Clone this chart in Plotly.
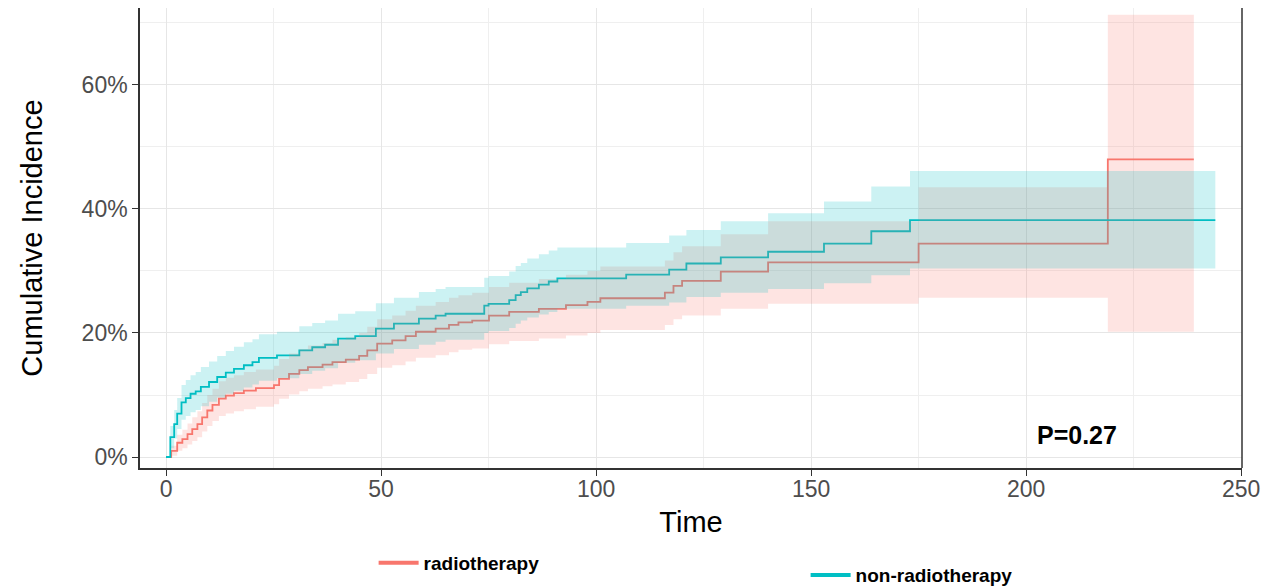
import plotly.graph_objects as go

# ---------------- data ----------------
# non-radiotherapy (teal): step times, cumulative incidence (%), 95% CI
teal_time = [0, 1.0, 1.9, 2.6, 3.6, 4.6, 5.7, 6.9, 8.1, 10.0, 11.9, 13.9, 15.8, 18.1, 20.1, 21.6,
             25.8, 31.0, 34.0, 37.0, 40.0, 44.0, 48.8, 53.0, 58.8, 62.7, 65.0, 74.0, 75.0, 79.8,
             81.3, 82.5, 84.0, 86.7, 89.0, 91.0, 107.0, 117.0, 121.0, 129.0, 140.0, 153.0, 164.0, 173.0]
teal_est = [0, 3.2, 5.3, 7.0, 8.8, 9.5, 10.2, 10.6, 11.3, 12.1, 12.9, 13.6, 14.2, 14.8, 15.3, 16.0,
            16.4, 17.2, 17.7, 18.1, 19.1, 19.5, 20.7, 21.5, 22.3, 22.8, 23.1, 24.4, 24.7, 25.3,
            26.1, 26.6, 27.2, 27.8, 28.3, 28.8, 29.4, 30.2, 31.2, 32.2, 33.1, 34.4, 36.4, 38.2]
teal_lower = [0, 1.4, 3.0, 4.5, 6.0, 6.6, 7.2, 7.6, 8.2, 8.9, 9.6, 10.2, 10.7, 11.2, 11.7, 12.3,
              12.7, 13.4, 13.9, 14.3, 15.2, 15.6, 16.7, 17.4, 18.1, 18.6, 18.9, 20.0, 20.3, 20.8,
              21.5, 22.0, 22.5, 23.0, 23.4, 23.9, 24.4, 24.9, 25.8, 26.5, 27.1, 28.0, 29.3, 30.4]
teal_upper = [0, 5.0, 7.6, 9.5, 11.6, 12.4, 13.2, 13.7, 14.5, 15.4, 16.3, 17.1, 17.8, 18.5, 19.0, 19.8,
              20.2, 21.1, 21.6, 22.0, 23.1, 23.5, 24.8, 25.7, 26.6, 27.1, 27.4, 28.9, 29.2, 29.9,
              30.8, 31.3, 32.0, 32.7, 33.3, 33.8, 34.5, 35.7, 36.6, 38.0, 39.3, 41.2, 43.6, 46.1]
teal_end = 244

# radiotherapy (red)
red_time = [0, 1.2, 2.6, 3.8, 5.0, 6.1, 7.3, 8.4, 9.6, 10.8, 12.3, 13.9, 15.8, 18.1, 20.9, 25.1,
            26.3, 28.6, 31.0, 33.0, 36.4, 38.7, 41.8, 44.9, 46.8, 49.1, 52.6, 55.7, 58.1, 62.7,
            65.8, 68.0, 71.2, 75.1, 79.8, 86.7, 93.0, 98.0, 101.0, 116.0, 118.0, 120.0, 129.0,
            140.0, 175.0, 219.0]
red_est = [0, 1.0, 2.3, 2.9, 3.7, 4.5, 5.3, 6.4, 7.5, 8.4, 9.4, 9.9, 10.3, 10.7, 11.1, 11.6,
           12.6, 13.4, 14.0, 14.5, 14.9, 15.3, 15.7, 16.3, 17.2, 18.3, 18.8, 19.5, 20.2, 20.7,
           21.3, 21.7, 22.0, 22.8, 23.4, 23.9, 24.5, 25.0, 25.6, 26.5, 27.6, 28.4, 29.9,
           31.4, 34.4, 48.0]
red_lower = [0, 0.2, 1.0, 1.4, 2.0, 2.6, 3.2, 4.1, 5.0, 5.8, 6.6, 7.0, 7.4, 7.7, 8.1, 8.5,
             9.4, 10.1, 10.6, 11.0, 11.4, 11.7, 12.1, 12.6, 13.4, 14.4, 14.8, 15.4, 16.0, 16.4,
             16.9, 17.3, 17.5, 18.2, 18.7, 19.1, 19.6, 20.0, 20.5, 21.3, 22.2, 22.8, 23.9,
             24.7, 25.7, 20.2]
red_upper = [0, 1.8, 3.6, 4.4, 5.4, 6.4, 7.4, 8.7, 10.0, 11.0, 12.2, 12.8, 13.2, 13.7, 14.1, 14.7,
             15.8, 16.7, 17.4, 18.0, 18.4, 18.9, 19.3, 20.0, 21.0, 22.2, 22.8, 23.6, 24.4, 25.0,
             25.7, 26.1, 26.5, 27.4, 28.1, 28.7, 29.4, 30.0, 30.7, 31.7, 33.0, 34.0, 35.9,
             38.0, 43.5, 71.3]
red_end = 239

groups = ["radiotherapy", "non-radiotherapy"]
x_ticks = [0, 50, 100, 150, 200, 250]
y_ticks = [0, 20, 40, 60]
y_ticktext = ["0%", "20%", "40%", "60%"]
p_label = "P=0.27"
p_pos = (202, 3.5)

RED = "#F8766D"
TEAL = "#00BFC4"
RED_FILL = "rgba(248,118,109,0.2)"
TEAL_FILL = "rgba(0,191,196,0.2)"
FONT = "Liberation Sans, Arial, sans-serif"


def extend(t, v, end):
    return list(t) + [end], list(v) + [v[-1]]


fig = go.Figure()

series = [
    (groups[0], red_time, red_est, red_lower, red_upper, red_end, RED, RED_FILL, "legend"),
    (groups[1], teal_time, teal_est, teal_lower, teal_upper, teal_end, TEAL, TEAL_FILL, "legend2"),
]

# step lines (drawn first; the ribbons sit on top of them, as in the reference)
for name, t, est, lo, hi, end, col, fill, lg in series:
    x, y = extend(t, est, end)
    fig.add_trace(go.Scatter(x=x, y=y, mode="lines", line=dict(color=col, width=1.8, shape="hv"),
                             showlegend=False, hoverinfo="skip"))

# confidence ribbons
for name, t, est, lo, hi, end, col, fill, lg in series:
    x, ylo = extend(t, lo, end)
    _, yhi = extend(t, hi, end)
    fig.add_trace(go.Scatter(x=x, y=ylo, mode="lines", line=dict(width=0, shape="hv", color=col),
                             showlegend=False, hoverinfo="skip"))
    fig.add_trace(go.Scatter(x=x, y=yhi, mode="lines", line=dict(width=0, shape="hv", color=col),
                             fill="tonexty", fillcolor=fill, showlegend=False, hoverinfo="skip"))

# legend swatches (thicker key lines, as in the reference)
for name, t, est, lo, hi, end, col, fill, lg in series:
    fig.add_trace(go.Scatter(x=[None], y=[None], mode="lines", name=name,
                             line=dict(color=col, width=4), legend=lg))

fig.add_annotation(x=p_pos[0], y=p_pos[1], text="<b>%s</b>" % p_label, showarrow=False,
                   xanchor="left", yanchor="middle",
                   font=dict(size=25, color="black", family=FONT))

# right border of the panel
fig.add_shape(type="line", xref="paper", yref="paper", x0=1, x1=1, y0=0, y1=1,
              line=dict(color="#333333", width=1.5))

axis_common = dict(
    showline=True, linecolor="#333333", linewidth=1.5,
    ticks="outside", ticklen=6, tickcolor="#333333", tickwidth=1.2,
    tickfont=dict(size=23, color="#4d4d4d"),
    showgrid=True, gridcolor="#e6e6e6", gridwidth=1,
    zeroline=False, automargin=False,
)

fig.update_layout(
    width=1280, height=587,
    margin=dict(l=140, r=38, t=8, b=119, autoexpand=False),
    paper_bgcolor="white", plot_bgcolor="white",
    font=dict(family=FONT, color="black"),
    xaxis=dict(range=[-6.05, 250.2], tickvals=x_ticks, ticklabelstandoff=-6,
               title=dict(text="Time", font=dict(size=29, color="black"), standoff=10),
               minor=dict(dtick=25, tick0=0, showgrid=True, gridcolor="#efefef", ticks=""),
               **axis_common),
    yaxis=dict(range=[-1.77, 72.4], tickvals=y_ticks, ticktext=y_ticktext,
               title=dict(text="Cumulative Incidence", font=dict(size=29, color="black"), standoff=30),
               minor=dict(dtick=10, tick0=0, showgrid=True, gridcolor="#efefef", ticks=""),
               **axis_common),
    legend=dict(orientation="h", x=0.212, y=-0.2065, xanchor="left", yanchor="middle",
                itemwidth=40,
                font=dict(size=19, color="black", family=FONT, weight="bold"),
                bgcolor="rgba(0,0,0,0)"),
    legend2=dict(orientation="h", x=0.604, y=-0.233, xanchor="left", yanchor="middle",
                 itemwidth=40,
                 font=dict(size=19, color="black", family=FONT, weight="bold"),
                 bgcolor="rgba(0,0,0,0)"),
)

fig.write_html("out.html", config={"displayModeBar": False},
               post_script="document.body.style.margin='0';")
